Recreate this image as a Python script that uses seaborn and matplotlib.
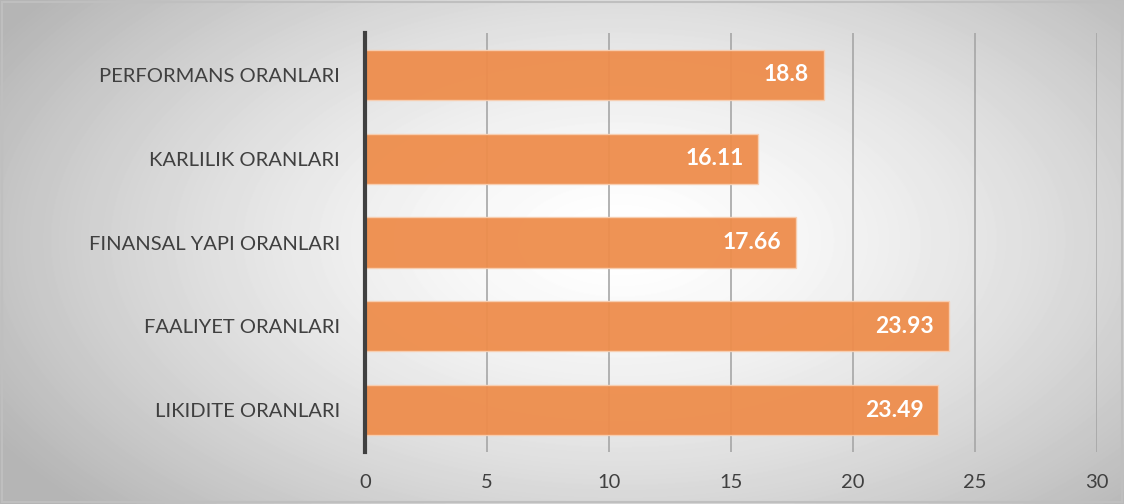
import numpy as np
import pandas as pd
import matplotlib.pyplot as plt
import seaborn as sns

categories = ["PERFORMANS ORANLARI", "KARLILIK ORANLARI", "FINANSAL YAPI ORANLARI",
              "FAALIYET ORANLARI", "LIKIDITE ORANLARI"]
values = [18.8, 16.11, 17.66, 23.93, 23.49]
value_labels = ["18.8", "16.11", "17.66", "23.93", "23.49"]
xticks = [0, 5, 10, 15, 20, 25, 30]

df = pd.DataFrame({"category": categories, "value": values})

sns.set_style("white")
plt.rcParams["font.family"] = ["Lato", "DejaVu Sans"]

fig = plt.figure(figsize=(11.24, 5.04), dpi=100)

# radial gradient background
bg = fig.add_axes([0, 0, 1, 1], zorder=-10)
yy, xx = np.mgrid[0:504, 0:1124]
r = np.sqrt(((xx - 620) / 600.0) ** 2 + ((yy - 240) / 330.0) ** 2)
shade = 1.0 - 0.22 * np.clip(r, 0, 1.2) ** 1.5
bg.imshow(shade, cmap="gray", vmin=0, vmax=1, aspect="auto", interpolation="bilinear")
bg.set_axis_off()
fig.patches.append(plt.Rectangle((0.002, 0.004), 0.996, 0.992, transform=fig.transFigure,
                                 fill=False, edgecolor="#BFBFBF", linewidth=1.5))

ax = fig.add_axes([365 / 1124, 52 / 504, 732 / 1124, 419 / 504])
ax.patch.set_alpha(0)
sns.barplot(data=df, y="category", x="value", orient="h", color="#EE8D4C",
            width=0.6, saturation=1, alpha=0.95, edgecolor="#F8CFB2", linewidth=1,
            ax=ax, zorder=3)

ax.set_xlim(0, 30)
ax.set_ylim(4.5, -0.5)
ax.set_xticks(xticks)
ax.set_xticklabels([str(t) for t in xticks])
ax.grid(axis="x", color="#A6A6A6", linewidth=1.2, zorder=0)
ax.set_axisbelow(True)
for s in ["top", "right", "bottom"]:
    ax.spines[s].set_visible(False)
ax.spines["left"].set_color("#404040")
ax.spines["left"].set_linewidth(3)
ax.spines["left"].set_zorder(5)
ax.tick_params(axis="both", length=0, labelsize=14.5, colors="#404040")
ax.tick_params(axis="x", pad=16)
ax.tick_params(axis="y", pad=18)
ax.set_xlabel("")
ax.set_ylabel("")

for i, (v, lab) in enumerate(zip(values, value_labels)):
    ax.text(v - 0.6, i, lab, ha="right", va="center", color="white",
            fontsize=16.5, fontweight="bold", zorder=6)

fig.savefig("out.png", dpi=100)
